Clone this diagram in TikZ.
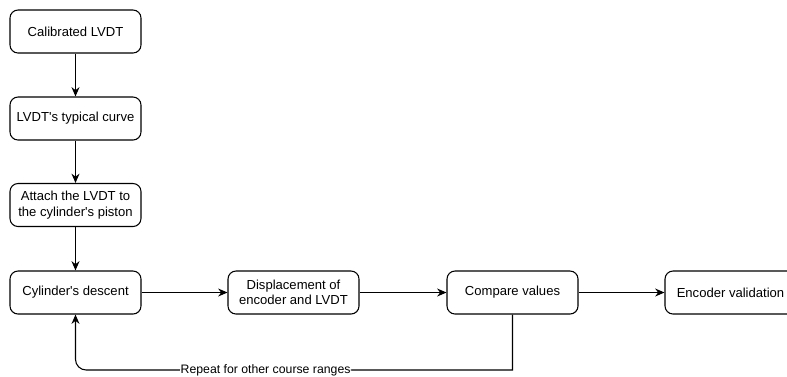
\documentclass[tikz,border=0pt]{standalone}
\usepackage{fontspec}
\setmainfont{Liberation Sans}
\usetikzlibrary{arrows.meta}

\tikzset{
  stepbox/.style={draw, thick, rounded corners=6, minimum width=131*0.75pt,
    minimum height=43*0.75pt, align=center, font=\fontsize{9.8}{11.5}\selectfont,
    inner sep=0pt, fill=white},
  flow/.style={thick, -{Stealth[length=7pt,width=6pt]}}
}

\begin{document}
\begin{tikzpicture}[x=0.75pt, y=-0.75pt]

\useasboundingbox (0, 0) rectangle (787, 376);

\node[stepbox] (calib) at (75.5, 31.5) {Calibrated LVDT};
\node[stepbox] (curve) at (75.5, 118.5) {LVDT\textquotesingle s typical curve};
\node[stepbox] (attach) at (75.5, 205) {Attach the LVDT to\\the cylinder\textquotesingle s piston};
\node[stepbox] (descent) at (75.5, 292.5) {Cylinder\textquotesingle s descent};
\node[stepbox] (displ) at (293.5, 292.5) {Displacement of\\encoder and LVDT};
\node[stepbox] (compare) at (512.5, 292.5) {Compare values};
\node[stepbox] (valid) at (730.5, 292.5) {Encoder validation};

\draw[flow] (calib) -- (curve);
\draw[flow] (curve) -- (attach);
\draw[flow] (attach) -- (descent);
\draw[flow] (descent) -- (displ);
\draw[flow] (displ) -- (compare);
\draw[flow] (compare) -- (valid);

% loop back for the next range
\coordinate (loopbase) at (512.5, 370);
\draw[flow] (compare.south) -- (loopbase) [rounded corners=8]
  -- node[pos=0.565, fill=white, inner sep=0.5pt, font=\fontsize{9.2}{10}\selectfont] {Repeat for other course ranges}
  (descent.south |- loopbase) -- (descent.south);

\end{tikzpicture}
\end{document}
